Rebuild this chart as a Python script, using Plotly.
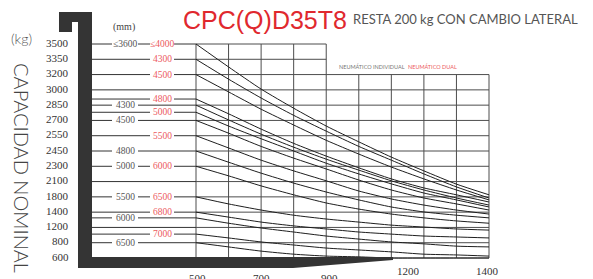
import numpy as np
import plotly.graph_objects as go

W, H = 593, 279

# ---------------- data ----------------
load_centers = [500, 600, 700, 800, 900, 1000, 1100, 1200, 1300, 1400]   # mm
x_tick_values = [500, 700, 900, 1200, 1400]
x_tick_labels = ["500", "700", "900", "1200", "1400"]

# capacity tick labels (equally spaced rows on the chart)
kg_ticks = [600, 800, 1200, 1400, 1800, 2100, 2300, 2450, 2550, 2700, 2850, 3000, 3200, 3350, 3500]

# rated capacity curves (kg) vs load centre
cap_3600_4000 = [3500, 3275, 3010, 2820, 2645, 2510, 2390, 2240, 2050, 1840]
cap_d4300 = [3350, 3140, 2920, 2750, 2595, 2480, 2360, 2200, 1995, 1770]
cap_d4500 = [3200, 2980, 2810, 2655, 2520, 2420, 2290, 2135, 1935, 1720]
cap_d4800 = [2910, 2765, 2615, 2500, 2400, 2280, 2135, 1975, 1840, 1665]
cap_s4300 = [2850, 2705, 2565, 2475, 2370, 2250, 2110, 1935, 1770, 1585]
cap_d5000 = [2780, 2645, 2530, 2450, 2330, 2200, 2055, 1875, 1720, 1535]
cap_s4500 = [2700, 2575, 2480, 2380, 2265, 2120, 1935, 1770, 1615, 1455]
cap_d5500 = [2550, 2470, 2360, 2240, 2110, 1915, 1745, 1585, 1455, 1375]
cap_s4800 = [2450, 2340, 2210, 2070, 1895, 1720, 1535, 1405, 1360, 1325]
cap_s5000_d6000 = [2300, 2175, 2015, 1840, 1640, 1480, 1375, 1325, 1285, 1255]
cap_s5500_d6500 = [1800, 1615, 1455, 1360, 1310, 1270, 1230, 1205, 1160, 1130]
cap_d6800 = [1400, 1335, 1270, 1220, 1160, 1080, 1025, 975, 950, 925]
cap_s6000 = [1325, 1255, 1185, 1080, 975, 895, 820, 785, 755, 745]
cap_d7000 = [1025, 925, 820, 770, 730, 705, 680, 650, 640, 625]
cap_s6500 = [800, 745, 690, 650, 625, 615, 600, 600, 600, 600]

curves = [cap_3600_4000, cap_d4300, cap_d4500, cap_d4800, cap_s4300, cap_d5000,
          cap_s4500, cap_d5500, cap_s4800, cap_s5000_d6000, cap_s5500_d6500,
          cap_d6800, cap_s6000, cap_d7000, cap_s6500]

# mast height leaders (mm): single tyre (grey) / dual tyre (red)
leader_kg = [3500, 3350, 3200, 3000, 2910, 2850, 2780, 2700, 2550, 2450, 2300, 2100,
             1800, 1400, 1325, 1200, 1025, 800]
single_tire_labels = ["≤3600", "", "", "", "", "4300", "", "4500", "", "4800", "5000", "",
                      "5500", "", "6000", "", "", "6500"]
dual_tire_labels = ["≤4000", "4300", "4500", "", "4800", "", "5000", "", "5500", "", "6000", "",
                    "6500", "6800", "", "", "7000", ""]

# ---------------- geometry helpers ----------------
def row(kg):
    return np.interp(kg, kg_ticks, np.arange(len(kg_ticks)))

def px(x):
    return x / W

def py(y):
    return 1 - y / H

X_L, X_R = 196, 489       # pixel of 500 / 1400 mm
Y_B, Y_T = 258, 44        # pixel of bottom / top row
xpad, ypad = 5, 0.1
px_per_mm = (X_R - X_L) / 900
px_per_row = (Y_B - Y_T) / 14
xdom = [px(X_L - xpad * px_per_mm), px(X_R + xpad * px_per_mm)]
ydom = [py(Y_B + ypad * px_per_row), py(Y_T - ypad * px_per_row)]

GRID = "#4d4d4d"
INK = "#1e1e1e"
RED = "#e0282e"
PINK = "#ec5a60"
GREYTXT = "#555555"

fig = go.Figure()

for c in curves:
    fig.add_trace(go.Scatter(x=load_centers, y=row(c), mode="lines",
                             line=dict(color=INK, width=1, shape="spline", smoothing=0.6),
                             hoverinfo="skip", showlegend=False))

shapes = []
# grid
for i in range(len(kg_ticks)):
    xe = 1400 if i <= 12 else 900
    shapes.append(dict(type="line", xref="x", yref="y", x0=500, x1=xe, y0=i, y1=i,
                       line=dict(color=GRID, width=1), layer="below"))
for xv in range(500, 1401, 100):
    ye = 14 if xv <= 900 else 12
    shapes.append(dict(type="line", xref="x", yref="y", x0=xv, x1=xv, y0=0, y1=ye,
                       line=dict(color=GRID, width=1), layer="below"))

annotations = []
# leaders
for kg, s, d in zip(leader_kg, single_tire_labels, dual_tire_labels):
    r = float(row(kg))
    if s and d:
        segs = [(92, 112), (138, 150), (174, 196)]
    elif s:
        segs = [(92, 112), (138, 196)]
    elif d:
        segs = [(92, 150), (174, 196)]
    else:
        segs = [(92, 196)]
    for a, b in segs:
        shapes.append(dict(type="line", xref="paper", yref="y", x0=px(a), x1=px(b), y0=r, y1=r,
                           line=dict(color="#333333", width=1)))
    if s:
        annotations.append(dict(x=px(125), y=r, xref="paper", yref="y", text=s, showarrow=False,
                                xanchor="center", yanchor="middle",
                                font=dict(family="Liberation Serif", size=9.5, color=GREYTXT)))
    if d:
        annotations.append(dict(x=px(162), y=r, xref="paper", yref="y", text=d, showarrow=False,
                                xanchor="center", yanchor="middle",
                                font=dict(family="Liberation Serif", size=9.5, color=PINK)))

# black frame
pts = [(59, 12), (92, 12), (92, 257), (393, 257), (393, 260), (293, 268), (78, 268),
       (78, 22), (72, 22), (72, 32), (59, 32)]
path = "M " + " L ".join(f"{px(a):.5f},{py(b):.5f}" for a, b in pts) + " Z"
shapes.append(dict(type="path", xref="paper", yref="paper", path=path,
                   fillcolor="#343434", line=dict(width=0)))

# y tick labels
for i, k in enumerate(kg_ticks):
    annotations.append(dict(x=px(71), y=i + 0.08, xref="paper", yref="y", text=str(k),
                            xanchor="right", yanchor="middle", showarrow=False,
                            font=dict(family="Liberation Serif", size=11, color="#333333")))

# x tick labels
x_shift = [1, 0, 3, -15, -2]
x_lab_y = [278, 278, 278, 271, 271]
for v, t, sh, yy in zip(x_tick_values, x_tick_labels, x_shift, x_lab_y):
    annotations.append(dict(x=v, y=py(yy), xref="x", yref="paper", text=t, xshift=sh,
                            xanchor="center", yanchor="middle", showarrow=False,
                            font=dict(family="Liberation Serif", size=11, color="#333333")))

# texts
annotations += [
    dict(x=px(21), y=py(39), xref="paper", yref="paper", text="(kg)", showarrow=False,
         xanchor="center", yanchor="middle",
         font=dict(family="Lato", size=14, color="#555555", weight=300)),
    dict(x=px(22), y=py(168), xref="paper", yref="paper", text="CAPACIDAD NOMINAL",
         textangle=90, showarrow=False, xanchor="center", yanchor="middle",
         font=dict(family="Lato", size=20, color="#444444", weight=300)),
    dict(x=px(124), y=py(27), xref="paper", yref="paper", text="(mm)", showarrow=False,
         xanchor="center", yanchor="middle",
         font=dict(family="Liberation Serif", size=10, color="#444444")),
    dict(x=px(181), y=py(20), xref="paper", yref="paper", text="CPC(Q)D35T8", xanchor="left",
         yanchor="middle", showarrow=False,
         font=dict(family="Liberation Sans", size=25, color=RED)),
    dict(x=px(351), y=py(18.5), xref="paper", yref="paper", text="RESTA 200 kg CON CAMBIO LATERAL",
         xanchor="left", yanchor="middle", showarrow=False,
         font=dict(family="Lato", size=13, color="#555555")),
    dict(x=px(337), y=py(66.5), xref="paper", yref="paper", text="NEUMÁTICO INDIVIDUAL",
         xanchor="left", yanchor="middle", showarrow=False,
         font=dict(family="Lato", size=5.5, color="#777777")),
    dict(x=px(406), y=py(66.5), xref="paper", yref="paper", text="NEUMÁTICO DUAL",
         xanchor="left", yanchor="middle", showarrow=False,
         font=dict(family="Lato", size=5.5, color=PINK)),
]

fig.update_layout(
    width=W, height=H, margin=dict(l=0, r=0, t=0, b=0),
    paper_bgcolor="white", plot_bgcolor="rgba(0,0,0,0)",
    xaxis=dict(domain=xdom, range=[500 - xpad, 1400 + xpad], visible=False, fixedrange=True),
    yaxis=dict(domain=ydom, range=[-ypad, 14 + ypad], visible=False, fixedrange=True),
    shapes=shapes, annotations=annotations, showlegend=False,
)

fig.write_html("out.html", config={"displayModeBar": False},
               post_script="document.body.style.margin='0';document.body.style.overflow='hidden';")
